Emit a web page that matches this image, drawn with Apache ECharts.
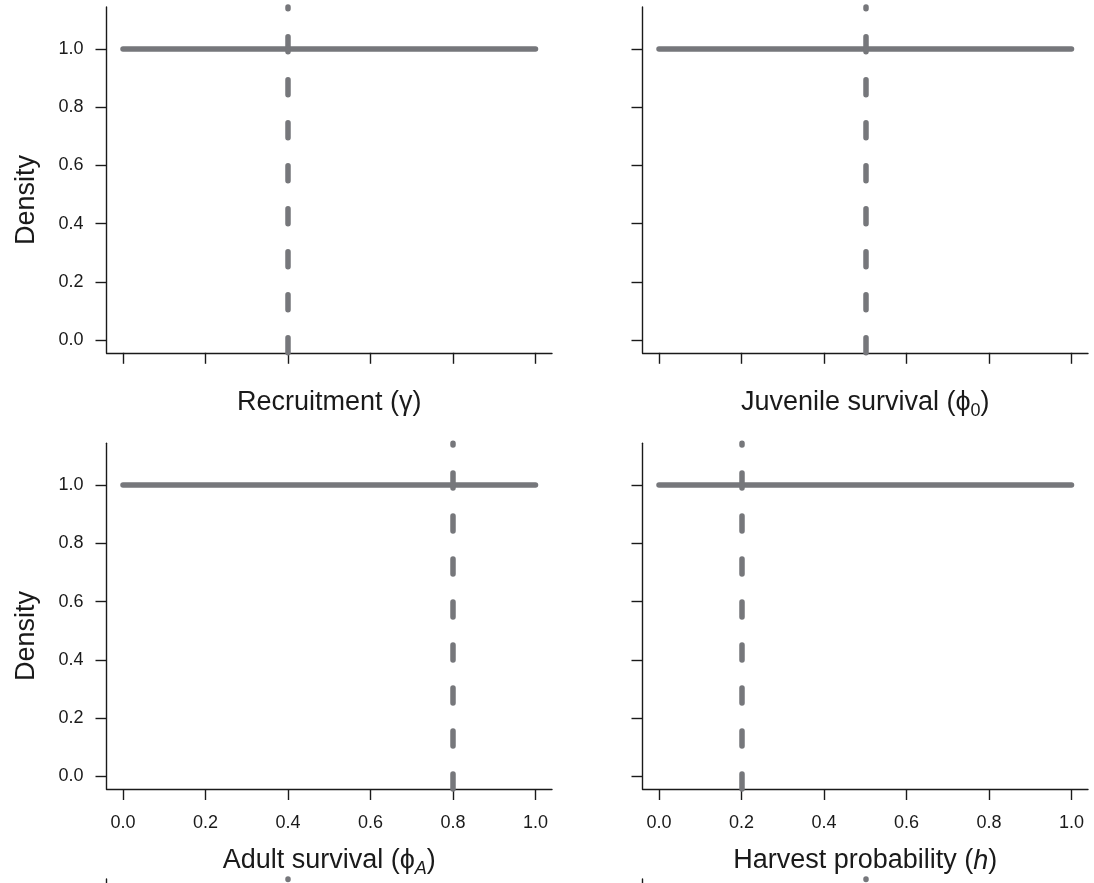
<!DOCTYPE html>
<html>
<head>
<meta charset="utf-8">
<script src="https://cdn.jsdelivr.net/npm/echarts@6/dist/echarts.min.js"></script>
<style>
  html, body { margin: 0; padding: 0; background: #ffffff; }
  #chart { width: 1094px; height: 883px; }
</style>
</head>
<body>
<div id="chart"></div>
<script>
// Uniform prior on each parameter (density 1 over [0, 1]) with the true value marked
const priorX = [0, 1];
const priorDensity = [1, 1];
const trueValues = [0.4, 0.5, 0.8, 0.2];
const panelNames = [
  'Recruitment (γ)',
  'Juvenile survival (ϕ{sub|0})',
  'Adult survival (ϕ{subIt|A})',
  'Harvest probability ({it|h})'
];
// true values of the following row of panels (only their top edge fits on the page)
const nextRowTrueValues = [0.4, 0.5];
const xTicks = [0, 0.2, 0.4, 0.6, 0.8, 1.0];
const yTicks = [0, 0.2, 0.4, 0.6, 0.8, 1.0];

const FONT = '"Liberation Sans", Arial, Helvetica, sans-serif';
const INK = '#1a1a1a';
const GREY = '#76777b';
const X_RANGE = [-0.04, 1.04];
const Y_RANGE = [-0.044, 1.144];

const colLeft = [106.5, 642.5];
const rowTop = [7, 443.2, 879];
const panelW = 445.5;
const panelH = 345.8;

const nameRich = {
  sub: { fontSize: 18, fontFamily: FONT, color: INK, verticalAlign: 'bottom', lineHeight: 18 },
  subIt: { fontSize: 18, fontFamily: FONT, color: INK, fontStyle: 'italic', verticalAlign: 'bottom', lineHeight: 18 },
  it: { fontSize: 27, fontFamily: FONT, color: INK, fontStyle: 'italic', lineHeight: 34 }
};

const grids = [], xAxes = [], yAxes = [], series = [];

function addPanel(row, col, trueValue, name, opts) {
  const idx = grids.length;
  grids.push({ left: colLeft[col], top: rowTop[row], width: panelW, height: panelH, containLabel: false });
  const bottomRow = row === 1;
  xAxes.push({
    gridIndex: idx, type: 'value', min: X_RANGE[0], max: X_RANGE[1],
    show: !opts.edgeOnly,
    axisLine: { show: true, onZero: false, lineStyle: { color: INK, width: 1.4 } },
    axisTick: { show: true, length: 11, customValues: xTicks, lineStyle: { color: INK, width: 1.4 } },
    axisLabel: {
      show: bottomRow, customValues: xTicks, formatter: v => v.toFixed(1),
      margin: 25, fontSize: 18, color: INK, fontFamily: FONT
    },
    splitLine: { show: false },
    name: name || '', nameLocation: 'middle', nameGap: bottomRow ? 55 : 33,
    nameTextStyle: { fontSize: 27, fontFamily: FONT, color: INK, lineHeight: 34, rich: nameRich }
  });
  yAxes.push({
    gridIndex: idx, type: 'value', min: Y_RANGE[0], max: Y_RANGE[1],
    axisLine: { show: true, onZero: false, lineStyle: { color: INK, width: 1.4 } },
    axisTick: { show: !opts.edgeOnly, length: 11, customValues: yTicks, lineStyle: { color: INK, width: 1.4 } },
    axisLabel: {
      show: col === 0 && !opts.edgeOnly, customValues: yTicks, formatter: v => v.toFixed(1),
      margin: 23, fontSize: 18, color: INK, fontFamily: FONT
    },
    splitLine: { show: false },
    name: (col === 0 && !opts.edgeOnly) ? 'Density' : '',
    nameLocation: 'middle', nameGap: 66,
    nameTextStyle: { fontSize: 27, fontFamily: FONT, color: INK, padding: [0, 40, 0, 0] }
  });
  series.push({
    type: 'line', xAxisIndex: idx, yAxisIndex: idx,
    data: priorX.map((x, k) => [x, priorDensity[k]]),
    symbol: 'none', silent: true,
    lineStyle: { color: GREY, width: 5.5, cap: 'round' },
    markLine: {
      silent: true, symbol: ['none', 'none'], label: { show: false },
      lineStyle: { color: GREY, width: 5.5, type: [15, 28], cap: 'round' },
      emphasis: { disabled: true },
      data: [{ xAxis: trueValue }]
    }
  });
}

addPanel(0, 0, trueValues[0], panelNames[0], {});
addPanel(0, 1, trueValues[1], panelNames[1], {});
addPanel(1, 0, trueValues[2], panelNames[2], {});
addPanel(1, 1, trueValues[3], panelNames[3], {});
addPanel(2, 0, nextRowTrueValues[0], '', { edgeOnly: true });
addPanel(2, 1, nextRowTrueValues[1], '', { edgeOnly: true });

const chart = echarts.init(document.getElementById('chart'), null, { renderer: 'canvas' });
chart.setOption({
  animation: false,
  backgroundColor: '#ffffff',
  grid: grids,
  xAxis: xAxes,
  yAxis: yAxes,
  series: series
});
</script>
</body>
</html>
